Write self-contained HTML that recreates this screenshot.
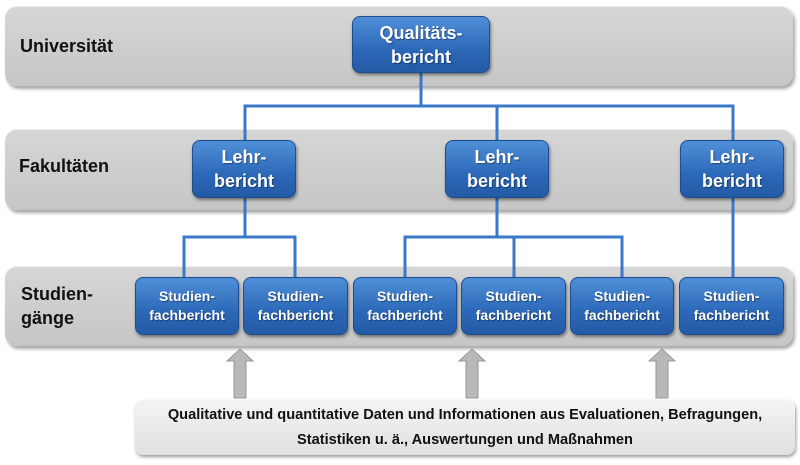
<!DOCTYPE html>
<html><head><meta charset="utf-8"><style>
body{margin:0;width:800px;height:465px;background:#fff;position:relative;overflow:hidden;font-family:"Liberation Sans",sans-serif;}
.band{position:absolute;left:5px;width:788px;border-radius:12px;background:linear-gradient(#d6d6d6,#c6c6c6);box-shadow:2px 3px 3px rgba(0,0,0,.35), inset 0 1px 0 #eee;}
.lbl{position:absolute;font-weight:bold;font-size:18px;color:#111;line-height:24px;}
.box{position:absolute;border-radius:8px;background:linear-gradient(#4f8fd8,#2c68b8 60%,#245aa6);border:1px solid #1d4d8f;box-shadow:1px 2px 3px rgba(0,0,0,.45);color:#fff;font-weight:bold;display:flex;align-items:center;justify-content:center;text-align:center;box-sizing:border-box;text-shadow:1px 1px 1px rgba(0,0,0,.4);}
.big{font-size:18px;line-height:24px;}
.sm{font-size:14px;line-height:19px;}
svg{position:absolute;left:0;top:0;}
.bottom{position:absolute;left:135px;top:400px;width:660px;height:55px;border-radius:8px;background:linear-gradient(#f4f4f4,#e0e0e0);box-shadow:1px 2px 3px rgba(0,0,0,.4);font-weight:bold;font-size:14.6px;line-height:25px;text-align:center;color:#111;display:flex;align-items:center;justify-content:center;}
</style></head><body>
<div class="band" style="top:6px;height:80px"></div>
<div class="band" style="top:129px;height:81px"></div>
<div class="band" style="top:266px;height:80px"></div>
<div class="lbl" style="left:20px;top:34px">Universität</div>
<div class="lbl" style="left:19px;top:154px">Fakultäten</div>
<div class="lbl" style="left:21px;top:282px">Studien-<br>gänge</div>
<svg width="800" height="465">
<g stroke="#3a78c8" stroke-width="3" fill="none">
<polyline points="421,73 421,106"/>
<polyline points="245,140 245,106 733,106 733,140"/>
<polyline points="497,106 497,140"/>
<polyline points="245,198 245,237"/>
<polyline points="184,277 184,237 295,237 295,277"/>
<polyline points="497,198 497,237"/>
<polyline points="405,277 405,237 622,237 622,277"/>
<polyline points="514,237 514,277"/>
<polyline points="733,198 733,277"/>
</g>
<g fill="#b8b8b8" stroke="#999" stroke-width="1">
<polygon points="240,349 253,361 246,361 246,398 234,398 234,361 227,361"/>
<polygon points="472,349 485,361 478,361 478,398 466,398 466,361 459,361"/>
<polygon points="662,349 675,361 668,361 668,398 656,398 656,361 649,361"/>
</g>
</svg>
<div class="box big" style="left:352px;top:16px;width:138px;height:57px">Qualitäts-<br>bericht</div>
<div class="box big" style="left:192px;top:140px;width:104px;height:58px">Lehr-<br>bericht</div>
<div class="box big" style="left:445px;top:140px;width:104px;height:58px">Lehr-<br>bericht</div>
<div class="box big" style="left:680px;top:140px;width:104px;height:58px">Lehr-<br>bericht</div>
<div class="box sm" style="left:135px;top:277px;width:104px;height:58px">Studien-<br>fachbericht</div>
<div class="box sm" style="left:243px;top:277px;width:105px;height:58px">Studien-<br>fachbericht</div>
<div class="box sm" style="left:353px;top:277px;width:104px;height:58px">Studien-<br>fachbericht</div>
<div class="box sm" style="left:461px;top:277px;width:105px;height:58px">Studien-<br>fachbericht</div>
<div class="box sm" style="left:570px;top:277px;width:104px;height:58px">Studien-<br>fachbericht</div>
<div class="box sm" style="left:679px;top:277px;width:105px;height:58px">Studien-<br>fachbericht</div>
<div class="bottom">Qualitative und quantitative Daten und Informationen aus Evaluationen, Befragungen,<br>Statistiken u. ä., Auswertungen und Maßnahmen</div>
</body></html>
